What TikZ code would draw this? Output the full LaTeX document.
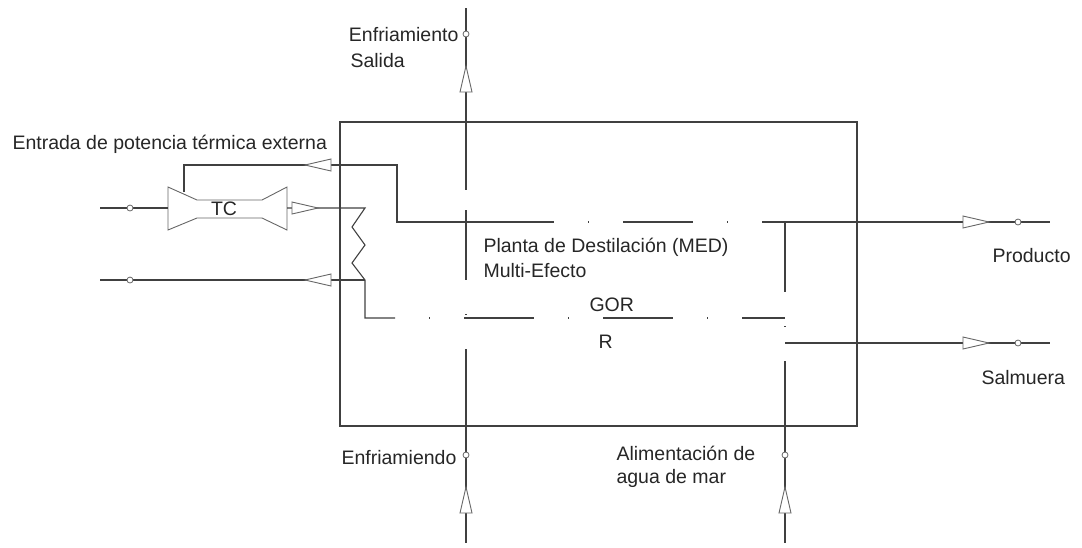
\documentclass[tikz,border=0pt]{standalone}
\usepackage{fontspec}
\setmainfont{Liberation Sans}
\begin{document}
\begin{tikzpicture}[x=1pt,y=-1pt,line width=1.1pt,
  ln/.style={draw=black!75},
  dd/.style={draw=black!75,dash pattern=on 70pt off 34pt on 1pt off 34pt},
  lbl/.style={font=\fontsize{19.5}{23}\selectfont,inner sep=0pt,anchor=west,text=black!85},
  tri/.pic={\draw[black!60,line width=0.9pt,fill=white] (-13,-6) -- (13,0) -- (-13,6) -- cycle;},
  dot/.style={circle,draw=black!60,line width=0.8pt,fill=white,minimum size=6pt,inner sep=0pt}]
\useasboundingbox (0,0) rectangle (1082,547);
% box
\draw[ln] (340,122) rectangle (857,426);
% coordinates
\coordinate (vt) at (466,8); \coordinate (vb) at (466,543);
\coordinate (r1) at (785,222); \coordinate (r2) at (785,543);
% left vertical
\draw[ln] (vt) -- (466,190);
\draw[dd,dash phase=-20pt] (466,190) -- (466,426);
\draw[ln] (466,385) -- (vb);
\node[dot] (c1) at (466,34) {};
\node[dot] (c2) at (466,455) {};
\pic[rotate=90] at (466,79) {tri};
\pic[rotate=90] at (466,500) {tri};
% right vertical
\draw[dd] (r1) -- (785,426);
\draw[ln] (785,385) -- (r2);
\node[dot] (c3) at (785,455) {};
\pic[rotate=90] at (785,500) {tri};
% top process line
\coordinate (a1) at (184,192); \coordinate (a2) at (184,165); \coordinate (a3) at (397,165);
\coordinate (a4) at (397,222); \coordinate (a5) at (484,222); \coordinate (pe) at (1050,222);
\draw[ln] (a1) -- (a2) -- (a3) -- (a4) -- (a5);
\draw[dd] (a5) -- (r1);
\draw[ln] (r1) -- (pe);
\pic[rotate=180] at (318,165) {tri};
\pic at (976,222) {tri};
\node[dot] (c4) at (1018,222) {};
% TC
\coordinate (ti) at (100,208);
\draw[ln,draw=black!60,line width=0.9pt] (168,187) -- (197,200) -- (262,200) -- (287,187) -- (287,230) -- (262,218) -- (197,218) -- (168,230) -- cycle;
\node[font=\fontsize{19.5}{23}\selectfont,text=black!85] (tc) at (224,209) {TC};
\draw[ln] (ti) -- (168,208);
\node[dot] (c5) at (130,208) {};
\coordinate (z0) at (365,208);
\draw[ln] (287,208) -- (z0) -- (352,227) -- (365,245) -- (352,263) -- (365,280) -- (365,318) -- (395,318);
\pic at (305,208) {tri};
\coordinate (bl) at (100,280);
\draw[ln] (365,280) -- (bl);
\node[dot] (c6) at (130,280) {};
\pic[rotate=180] at (318,280) {tri};
\draw[dd,dash phase=70pt] (395,318) -- (785,318);
% bottom out
\coordinate (se) at (1050,343);
\draw[ln] (785,343) -- (se);
\pic at (976,343) {tri};
\node[dot] (c7) at (1018,343) {};
% labels
\node[lbl,anchor=east] at (459,35) {Enfriamiento};
\node[lbl] at (350,61) {Salida};
\node[lbl] at (12,144) {Entrada de potencia térmica externa};
\node[lbl] at (483,247) {Planta de Destilación (MED)};
\node[lbl] at (483,271) {Multi-Efecto};
\node[lbl] at (589,305) {GOR};
\node[lbl] at (598,342) {R};
\node[lbl] at (992,256) {Producto};
\node[lbl] at (981,378) {Salmuera};
\node[lbl,anchor=east] at (457,458) {Enfriamiendo};
\node[lbl] at (616,453) {Alimentación de};
\node[lbl] at (616,478) {agua de mar};
\end{tikzpicture}
\end{document}
